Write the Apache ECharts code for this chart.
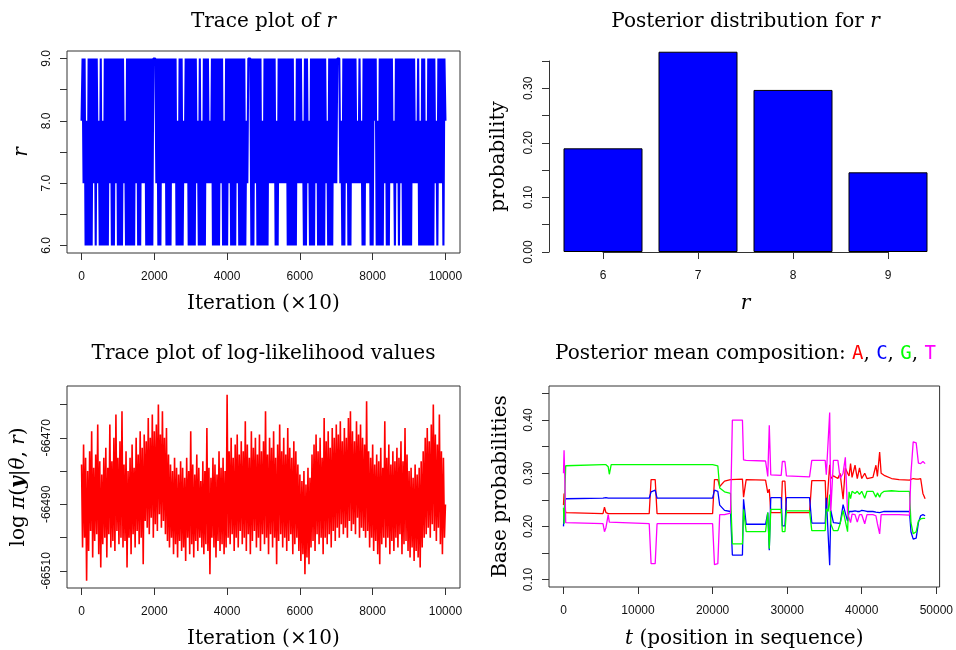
<!DOCTYPE html>
<html>
<head>
<meta charset="utf-8">
<script src="https://cdn.jsdelivr.net/npm/echarts@6.0.0/dist/echarts.min.js"></script>
<style>
html, body { margin: 0; padding: 0; background: #fff; }
#main { width: 956px; height: 650px; }
</style>
</head>
<body>
<div id="main"></div>
<script>
// --- data ---
// trace of r (thinned, one value per ~28 stored iterations)
const rTrace = [
  8,9,7,9,6,8,6,9,6,9,6,9,7,9,6,9,7,8,6,9,
  6,8,6,9,6,9,6,9,7,9,6,9,6,9,7,9,6,9,6,9,
  6,9,7,8,6,9,6,9,6,9,6,9,6,9,7,9,6,9,6,9,
  7,9,7,9,6,9,6,9,6,9,6,9,9,9,7,9,6,9,6,9,
  7,9,7,9,6,9,6,9,6,9,7,9,7,9,6,8,6,9,6,9,
  6,8,7,9,7,9,6,9,6,9,6,9,6,9,7,8,6,9,6,8,
  6,9,6,9,7,9,7,8,7,9,6,9,6,9,6,9,6,9,7,9,
  6,8,6,9,6,9,7,9,6,9,6,9,6,9,7,9,6,9,6,9,
  6,9,6,8,7,9,9,9,6,9,6,9,7,9,6,9,6,9,6,8,
  6,9,6,9,6,9,7,9,7,9,7,9,6,8,6,9,7,9,7,9,
  7,9,7,9,6,9,6,9,6,9,6,8,6,9,7,9,7,9,7,8,
  6,9,6,9,7,8,6,9,6,9,6,9,7,9,6,9,6,9,6,9,
  6,9,7,8,6,9,6,9,6,9,7,9,7,9,9,9,7,8,6,9,
  6,9,7,9,6,9,6,9,7,9,7,9,7,8,7,9,7,8,6,9,
  6,9,7,9,7,9,6,9,6,9,8,9,6,8,6,9,6,9,6,9,
  7,9,6,9,6,9,7,9,7,8,6,9,7,9,6,9,7,9,6,9,
  6,9,6,9,6,9,6,9,7,9,7,8,7,9,6,8,6,9,6,9,
  6,8,6,9,6,9,6,9,6,9,7,8,6,9,7,9,7,9,6,9,8
];

// trace of log-likelihood values
const logLik = [
  -66478,-66503,-66472,-66500,-66476,-66513,-66480,-66504,-66474,-66498,-66468,-66506,-66479,-66501,-66475,-66499,-66466,-66505,-66477,-66509,
  -66481,-66502,-66476,-66500,-66473,-66506,-66479,-66499,-66466,-66503,-66477,-66501,-66470,-66504,-66463,-66498,-66476,-66502,-66471,-66500,
  -66462,-66503,-66478,-66501,-66474,-66509,-66480,-66500,-66476,-66505,-66472,-66499,-66479,-66503,-66470,-66498,-66475,-66502,-66468,-66500,
  -66473,-66508,-66469,-66495,-66471,-66497,-66464,-66499,-66470,-66494,-66463,-66500,-66468,-66496,-66466,-66498,-66460,-66493,-66469,-66497,
  -66462,-66495,-66470,-66499,-66467,-66501,-66475,-66503,-66478,-66500,-66480,-66505,-66476,-66502,-66479,-66506,-66481,-66501,-66477,-66504,
  -66479,-66503,-66482,-66507,-66476,-66500,-66480,-66505,-66468,-66502,-66478,-66506,-66481,-66501,-66475,-66504,-66479,-66500,-66483,-66503,
  -66477,-66505,-66480,-66502,-66467,-66504,-66479,-66511,-66482,-66500,-66476,-66503,-66478,-66506,-66481,-66501,-66474,-66504,-66479,-66502,
  -66476,-66505,-66480,-66503,-66457,-66500,-66474,-66502,-66470,-66499,-66476,-66504,-66472,-66500,-66469,-66503,-66475,-66498,-66471,-66502,
  -66474,-66500,-66465,-66504,-66472,-66499,-66476,-66505,-66468,-66501,-66473,-66498,-66470,-66503,-66475,-66500,-66469,-66504,-66474,-66499,
  -66471,-66502,-66462,-66500,-66475,-66505,-66470,-66499,-66473,-66503,-66468,-66500,-66476,-66508,-66472,-66501,-66466,-66499,-66474,-66503,
  -66470,-66500,-66475,-66504,-66467,-66501,-66473,-66499,-66476,-66505,-66471,-66502,-66474,-66500,-66478,-66504,-66481,-66507,-66483,-66505,
  -66480,-66511,-66484,-66506,-66479,-66508,-66482,-66503,-66475,-66501,-66472,-66504,-66469,-66499,-66474,-66502,-66470,-66500,-66476,-66505,
  -66464,-66500,-66471,-66502,-66468,-66499,-66473,-66503,-66467,-66498,-66470,-66501,-66466,-66497,-66469,-66500,-66465,-66496,-66471,-66499,
  -66467,-66497,-66470,-66500,-66464,-66495,-66462,-66498,-66468,-66496,-66471,-66499,-66465,-66494,-66469,-66500,-66466,-66497,-66470,-66498,
  -66472,-66500,-66459,-66498,-66474,-66503,-66476,-66500,-66472,-66504,-66478,-66501,-66475,-66505,-66477,-66508,-66473,-66502,-66479,-66500,
  -66465,-66503,-66476,-66500,-66472,-66505,-66478,-66501,-66474,-66504,-66477,-66500,-66473,-66503,-66476,-66499,-66471,-66505,-66477,-66502,
  -66467,-66501,-66475,-66504,-66480,-66506,-66479,-66503,-66482,-66507,-66478,-66504,-66481,-66506,-66479,-66509,-66477,-66503,-66474,-66500,
  -66470,-66499,-66467,-66497,-66471,-66500,-66466,-66496,-66460,-66498,-66469,-66501,-66472,-66497,-66463,-66502,-66474,-66505,-66476,-66500,-66490
];
const nIterations = 10000;

// posterior distribution of r
const rValues = [6, 7, 8, 9];
const rProb = [0.190, 0.367, 0.297, 0.146];

// posterior mean composition along the sequence
const seqPos = [0, 80, 180, 300, 500, 5300, 5500, 5700, 6000, 6150, 6400, 11500, 11750, 12300, 12550,
  20000, 20250, 20700, 20950, 21600, 22400, 22650, 24000, 24150, 24500, 27100, 27400, 27600, 27800,
  29200, 29350, 29700, 29900, 33000, 33300, 35100, 35250, 35500, 35700, 35850, 36200, 36800, 37100,
  37500, 37800, 38100, 38300, 38500, 38700, 39100, 39400, 39700, 40000, 40400, 40700, 41500, 41900,
  42100, 42400, 42600, 43000, 44000, 45000, 46400, 46600, 46900, 47300, 47600, 47900, 48200, 48500];
const baseA = [.240, .262, .238, .226, .224, .224, .236, .226, .224, .224, .224, .224, .288, .288, .224,
  .224, .288, .288, .275, .285, .288, .289, .289, .255, .288, .287, .263, .270, .226,
  .226, .285, .285, .226, .226, .286, .286, .226, .226, .316, .290, .295, .290, .300,
  .251, .310, .300, .295, .318, .292, .315, .290, .310, .290, .300, .290, .292, .315,
  .294, .340, .300, .296, .290, .288, .287, .285, .290, .289, .289, .290, .262, .252];
const baseC = [.200, .198, .245, .252, .253, .253, .256, .254, .253, .253, .253, .253, .265, .268, .253,
  .253, .268, .266, .240, .230, .228, .146, .146, .251, .204, .204, .226, .155, .254,
  .254, .201, .201, .254, .254, .206, .206, .254, .254, .127, .230, .207, .206, .205,
  .241, .225, .210, .228, .227, .228, .229, .228, .228, .230, .229, .228, .228, .227,
  .228, .226, .229, .228, .228, .228, .228, .190, .176, .178, .207, .220, .222, .220];
const baseG = [.235, .205, .260, .314, .316, .316, .316, .316, .312, .298, .316, .316, .316, .316, .316,
  .316, .316, .314, .272, .265, .262, .167, .167, .232, .190, .190, .226, .158, .232,
  .232, .190, .190, .229, .229, .192, .192, .233, .228, .260, .205, .192, .192, .205,
  .230, .210, .190, .265, .252, .266, .262, .266, .260, .266, .253, .266, .266, .255,
  .263, .255, .262, .266, .267, .266, .266, .207, .186, .190, .210, .214, .215, .215];
const baseT = [.300, .343, .290, .207, .205, .205, .190, .198, .222, .208, .205, .205, .130, .130, .205,
  .205, .128, .130, .222, .222, .225, .400, .400, .325, .324, .323, .294, .390, .297,
  .296, .322, .322, .295, .293, .324, .324, .297, .297, .414, .229, .324, .324, .290,
  .300, .330, .225, .223, .207, .223, .222, .208, .222, .222, .205, .222, .222, .220,
  .205, .186, .222, .222, .222, .222, .221, .300, .359, .357, .319, .318, .322, .318];

// tick values
const iterTicks = [0, 2000, 4000, 6000, 8000, 10000];
const rTicks = [6, 6.5, 7, 7.5, 8, 8.5, 9];
const rTickLabels = [6, 7, 8, 9];
const llTicks = [-66510, -66500, -66490, -66480, -66470, -66460];
const llTickLabels = [-66510, -66490, -66470];
const posTicks = [0, 10000, 20000, 30000, 40000, 50000];
const probTicks = [0.10, 0.15, 0.20, 0.25, 0.30, 0.35, 0.40, 0.45];
const probTickLabels = [0.10, 0.20, 0.30, 0.40];

// --- styling ---
const SERIF = '"DejaVu Serif", "Liberation Serif", serif';
const SANS = '"Liberation Sans", Arial, sans-serif';
const MONO = '"DejaVu Sans Mono", "Liberation Mono", monospace';
const AXIS = '#333';
const FS = 20;

const txt = (extra) => Object.assign({ fontFamily: SERIF, fontSize: FS, fontWeight: 'normal', color: '#000' }, extra || {});
const nameStyle = Object.assign(txt(), {
  rich: {
    n: txt(),
    i: txt({ fontStyle: 'italic' }),
    b: txt({ fontStyle: 'italic', fontWeight: 'bold' })
  }
});

function tick(values) {
  const t = { show: true, inside: false, length: 7, lineStyle: { color: AXIS, width: 1 } };
  if (values) t.customValues = values;
  return t;
}
function label(values, fmt, rotate) {
  const l = { color: '#111', fontFamily: SANS, fontSize: 12, margin: rotate ? 14 : 18, formatter: fmt };
  if (values) l.customValues = values;
  if (rotate) l.rotate = 90;
  return l;
}
const hiddenLine = { show: false, onZero: false };

const iterStep = nIterations / (rTrace.length - 1);
const llStep = nIterations / (logLik.length - 1);

const gridBox = { show: true, borderColor: AXIS, borderWidth: 1, backgroundColor: 'transparent' };

const myChart = echarts.init(document.getElementById('main'), null, { renderer: 'canvas' });
myChart.setOption({
  animation: false,
  backgroundColor: '#fff',
  title: [
    { text: '{n|Trace plot of }{i|r}', left: 263.5, top: 12, textAlign: 'center', padding: 0, textStyle: nameStyle },
    { text: '{n|Posterior distribution for }{i|r}', left: 745.5, top: 12, textAlign: 'center', padding: 0, textStyle: nameStyle },
    { text: '{n|Trace plot of log-likelihood values}', left: 263.5, top: 344, textAlign: 'center', padding: 0, textStyle: nameStyle },
    { text: '{n|Posterior mean composition: }{a|A}{n|, }{c|C}{n|, }{g|G}{n|, }{t|T}', left: 745.5, top: 344,
      textAlign: 'center', padding: 0,
      textStyle: Object.assign(txt(), {
        rich: {
          n: txt(),
          a: { fontFamily: MONO, fontSize: 19, color: '#ff0000' },
          c: { fontFamily: MONO, fontSize: 19, color: '#0000ff' },
          g: { fontFamily: MONO, fontSize: 19, color: '#00ff00' },
          t: { fontFamily: MONO, fontSize: 19, color: '#ff00ff' }
        }
      }) }
  ],
  grid: [
    Object.assign({ left: 67, top: 51, width: 393, height: 202 }, gridBox),
    { left: 603, top: 61, width: 285, height: 191, show: false },
    Object.assign({ left: 67, top: 386, width: 393, height: 202 }, gridBox),
    Object.assign({ left: 549, top: 386, width: 393, height: 202 }, gridBox)
  ],
  xAxis: [
    { gridIndex: 0, type: 'value', min: -400, max: 10400,
      axisLine: hiddenLine, axisTick: tick(iterTicks), axisLabel: label(iterTicks, v => String(v)),
      splitLine: { show: false },
      name: '{n|Iteration (×10)}', nameLocation: 'middle', nameGap: 41, nameTextStyle: nameStyle },
    { gridIndex: 1, type: 'value', min: 6, max: 9, interval: 1,
      axisLine: { show: true, onZero: false, lineStyle: { color: AXIS, width: 1 } }, axisTick: tick(),
      axisLabel: label(null, v => String(v)),
      splitLine: { show: false },
      name: '{i|r}', nameLocation: 'middle', nameGap: 42, nameTextStyle: nameStyle },
    { gridIndex: 2, type: 'value', min: -400, max: 10400,
      axisLine: hiddenLine, axisTick: tick(iterTicks), axisLabel: label(iterTicks, v => String(v)),
      splitLine: { show: false },
      name: '{n|Iteration (×10)}', nameLocation: 'middle', nameGap: 41, nameTextStyle: nameStyle },
    { gridIndex: 3, type: 'value', min: -1940, max: 50440,
      axisLine: hiddenLine, axisTick: tick(posTicks), axisLabel: label(posTicks, v => String(v)),
      splitLine: { show: false },
      name: '{i|t}{n| (position in sequence)}', nameLocation: 'middle', nameGap: 42, nameTextStyle: nameStyle }
  ],
  yAxis: [
    { gridIndex: 0, type: 'value', min: 5.88, max: 9.12,
      axisLine: hiddenLine, axisTick: tick(rTicks), axisLabel: label(rTickLabels, v => Number(v).toFixed(1), true),
      splitLine: { show: false },
      name: '{i|r}', nameLocation: 'middle', nameGap: 35, nameTextStyle: nameStyle },
    { gridIndex: 1, type: 'value', min: 0, max: 0.35, interval: 0.05, offset: 54,
      axisLine: { show: true, onZero: false, lineStyle: { color: AXIS, width: 1 } }, axisTick: tick(),
      axisLabel: label(null, v => (Math.round(v * 100) % 10 === 0 ? Number(v).toFixed(2) : ''), true),
      splitLine: { show: false },
      name: '{n|probability}', nameLocation: 'middle', nameGap: 40, nameTextStyle: nameStyle },
    { gridIndex: 2, type: 'value', min: -66515.15, max: -66454.4,
      axisLine: hiddenLine, axisTick: tick(llTicks), axisLabel: label(llTickLabels, v => String(v), true),
      splitLine: { show: false },
      name: '{n|log }{i|π}{n|(}{b|y}{n||}{i|θ}{n|, }{i|r}{n|)}', nameLocation: 'middle', nameGap: 38,
      nameTextStyle: nameStyle },
    { gridIndex: 3, type: 'value', min: 0.086, max: 0.464,
      axisLine: hiddenLine, axisTick: tick(probTicks),
      axisLabel: label(probTickLabels, v => Number(v).toFixed(2), true),
      splitLine: { show: false },
      name: '{n|Base probabilities}', nameLocation: 'middle', nameGap: 38, nameTextStyle: nameStyle }
  ],
  series: [
    { type: 'line', xAxisIndex: 0, yAxisIndex: 0, showSymbol: false, symbol: 'none',
      data: rTrace.map((v, i) => [i * iterStep, v]),
      lineStyle: { color: '#0000ff', width: 2.1 } },
    { type: 'bar', xAxisIndex: 1, yAxisIndex: 1, barWidth: 79, clip: false,
      data: rValues.map((r, i) => [r, rProb[i]]),
      itemStyle: { color: '#0000ff', borderColor: '#000', borderWidth: 1 } },
    { type: 'line', xAxisIndex: 2, yAxisIndex: 2, showSymbol: false, symbol: 'none',
      data: logLik.map((v, i) => [i * llStep, v]),
      lineStyle: { color: '#ff0000', width: 1.6 } },
    { type: 'line', xAxisIndex: 3, yAxisIndex: 3, showSymbol: false, symbol: 'none',
      data: seqPos.map((p, i) => [p, baseA[i]]), lineStyle: { color: '#ff0000', width: 1.3 } },
    { type: 'line', xAxisIndex: 3, yAxisIndex: 3, showSymbol: false, symbol: 'none',
      data: seqPos.map((p, i) => [p, baseC[i]]), lineStyle: { color: '#0000ff', width: 1.3 } },
    { type: 'line', xAxisIndex: 3, yAxisIndex: 3, showSymbol: false, symbol: 'none',
      data: seqPos.map((p, i) => [p, baseG[i]]), lineStyle: { color: '#00ff00', width: 1.3 } },
    { type: 'line', xAxisIndex: 3, yAxisIndex: 3, showSymbol: false, symbol: 'none',
      data: seqPos.map((p, i) => [p, baseT[i]]), lineStyle: { color: '#ff00ff', width: 1.3 } }
  ]
});
</script>
</body>
</html>
